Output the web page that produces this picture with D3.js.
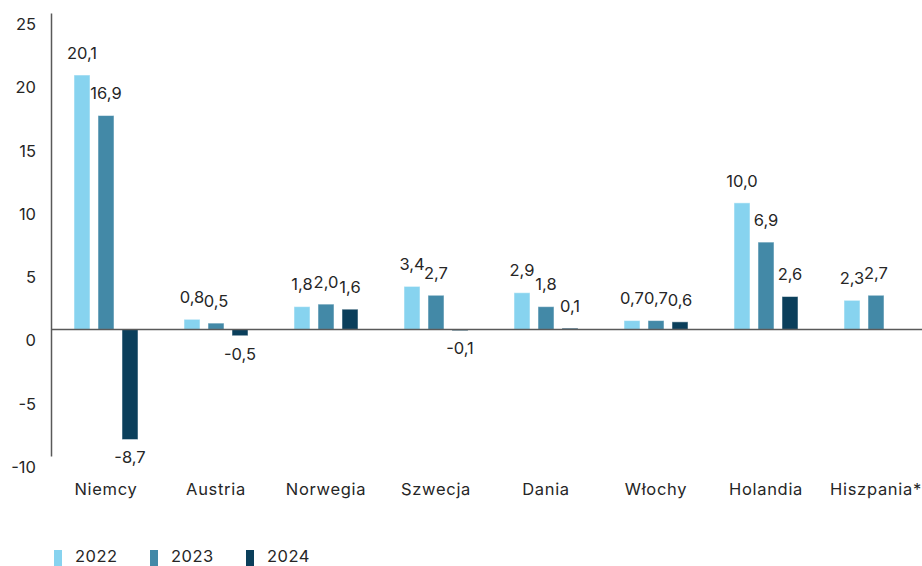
<!DOCTYPE html>
<html>
<head>
<meta charset="utf-8">
<script src="https://cdn.jsdelivr.net/npm/d3@7"></script>
<style>
  body { margin: 0; background: #fff; }
  text { font-family: Inter, "Open Sans", sans-serif; fill: #262626; }
</style>
</head>
<body>
<script>
// data
const countries = ["Niemcy", "Austria", "Norwegia", "Szwecja", "Dania", "Włochy", "Holandia", "Hiszpania*"];
const years = ["2022", "2023", "2024"];
const v2022 = [20.1, 0.8, 1.8, 3.4, 2.9, 0.7, 10.0, 2.3];
const v2023 = [16.9, 0.5, 2.0, 2.7, 1.8, 0.7, 6.9, 2.7];
const v2024 = [-8.7, -0.5, 1.6, -0.1, 0.1, 0.6, 2.6, null];
const yTicks = [25, 20, 15, 10, 5, 0, -5, -10];
const colors = ["#87d3ef", "#4389a7", "#0b3f5b"];

const width = 922, height = 566;
const margin = ({top: 13, right: -9, bottom: 110, left: 51});

const series = [v2022, v2023, v2024];
const rows = [];
countries.forEach(function(c, i) {
  years.forEach(function(yr, j) {
    if (series[j][i] != null) rows.push({country: c, year: yr, value: series[j][i]});
  });
});

const svg = d3.select("body").append("svg")
  .attr("width", width)
  .attr("height", height);

const x = d3.scaleBand()
  .domain(countries)
  .range([margin.left, width - margin.right]);

// three bars, 16px wide with 8px gaps, centred in each band
const xInner = d3.scaleBand()
  .domain(years)
  .range([x.bandwidth() / 2 - 32, x.bandwidth() / 2 + 32])
  .paddingInner(1 / 3);

const y = d3.scaleLinear()
  .domain([-10, 25])
  .range([height - margin.bottom, margin.top]);

const color = d3.scaleOrdinal().domain(years).range(colors);

// bars
svg.append("g")
  .selectAll("rect")
  .data(rows)
  .join("rect")
  .attr("x", d => x(d.country) + xInner(d.year))
  .attr("width", xInner.bandwidth())
  .attr("y", d => y(Math.max(0, d.value)))
  .attr("height", d => Math.max(1, Math.abs(y(d.value) - y(0))))
  .attr("fill", d => color(d.year))
  .attr("stroke", "#fff")
  .attr("stroke-opacity", 0.5)
  .attr("stroke-width", 1);

// value labels
svg.append("g")
  .style("font-size", "16.5px")
  .selectAll("text")
  .data(rows)
  .join("text")
  .attr("x", d => x(d.country) + xInner(d.year) + xInner.bandwidth() / 2)
  .attr("y", d => d.value >= 0 ? y(d.value) - 22 : y(d.value) + 18)
  .attr("dy", "0.35em")
  .attr("text-anchor", "middle")
  .text(d => d3.format(".1f")(d.value).replace(".", ",").replace("−", "-"));

// y axis
const yAxis = svg.append("g")
  .attr("transform", "translate(" + margin.left + ",0)")
  .call(d3.axisLeft(y).tickValues(yTicks).tickSize(0).tickPadding(15)
    .tickFormat(d => String(d)));
yAxis.select(".domain").attr("stroke", "#595959").attr("stroke-width", 1.5);
yAxis.selectAll("text")
  .attr("dy", "1em")
  .style("font-size", "16.5px")
  .style("font-family", "Inter, sans-serif")
  .attr("fill", "#262626");

// zero line
svg.append("line")
  .attr("x1", margin.left)
  .attr("x2", width)
  .attr("y1", y(0))
  .attr("y2", y(0))
  .attr("stroke", "#595959")
  .attr("stroke-width", 1.5);

// category labels
svg.append("g")
  .style("font-size", "16.5px")
  .style("letter-spacing", "0.7px")
  .selectAll("text")
  .data(countries)
  .join("text")
  .attr("x", d => x(d) + x.bandwidth() / 2)
  .attr("y", 489)
  .attr("dy", "0.35em")
  .attr("text-anchor", "middle")
  .text(d => d);

// legend
const legend = svg.append("g")
  .selectAll("g")
  .data(years)
  .join("g")
  .attr("transform", (d, i) => "translate(" + (54 + i * 96) + ",550)");
legend.append("rect")
  .attr("width", 8)
  .attr("height", 16)
  .attr("fill", d => color(d));
legend.append("text")
  .attr("x", 21)
  .attr("y", 6)
  .attr("dy", "0.35em")
  .style("font-size", "16.5px")
  .style("letter-spacing", "0.5px")
  .text(d => d);
</script>
</body>
</html>
